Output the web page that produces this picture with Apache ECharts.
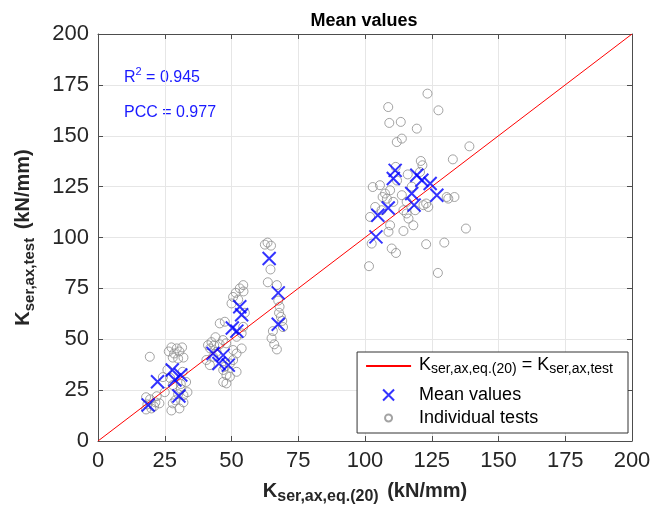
<!DOCTYPE html>
<html>
<head>
<meta charset="utf-8">
<script src="https://cdn.jsdelivr.net/npm/echarts@6/dist/echarts.min.js"></script>
<style>
html,body{margin:0;padding:0;background:#fff;}
#c{width:665px;height:509px;}
</style>
</head>
<body>
<div id="c"></div>
<script>
// ---- data ----
const axisTicks = [0, 25, 50, 75, 100, 125, 150, 175, 200];

const meanValues = [
  [18.8,17.7],[22.3,29.1],[27.8,34.9],[28.8,30.0],[31.0,32.4],[30.3,22.1],
  [43.1,43.0],[45.3,38.1],[46.9,42.2],[48.8,37.3],[50.3,55.5],[52.0,54.0],[53.1,66.0],[53.8,62.0],
  [64.1,89.7],[67.5,72.8],[67.5,57.4],
  [104.1,100.3],[104.8,110.9],[108.7,114.5],[111.3,133.0],[110.6,129.0],[119.4,130.6],
  [121.3,128.1],[124.4,126.5],[117.5,121.6],[118.4,115.9],[126.9,120.8]
];

const individualTests = [
  // group ~ 20-33
  [19.4,41.4],[26.5,44],[27.5,46],[28.5,43],[29.5,45.5],[30.5,44],[31.5,46],[28,41],[30,40.5],[32,41],
  [26,35],[31.7,34],[28,27.5],[31,28],[33,29],[18,15.5],[18.5,18],[19.5,20.5],[18,21.5],[20,16],
  [21,17],[21.5,19],[23,18.5],[24.3,31.4],[25,24],[27.5,15],[28,18.5],[30.5,16],[29,20],[32,19],
  [30,23],[32,22.5],[33.5,24],[31,25.5],[22,22],[27,31],
  // group ~ 40-55
  [54.4,76.6],[53.1,75],[51.6,72.8],[50.6,70.8],[52.5,69.5],[50,67.6],[54.5,73.5],[45.6,57.8],[47.5,58.6],
  [54.4,56.1],[53.8,52.9],[51.9,51.2],[42,45.5],[42.5,48.6],[43.5,47],[45.6,47.5],[46.8,49.6],[48,48],
  [44.4,43.8],[43.1,41.4],[50.6,44.7],[51.9,43],[50.6,39.8],[49.4,38.1],[40.6,39.8],[41.9,37.3],
  [46.9,34.9],[48.1,32.4],[47.5,36.5],[51.9,34],[49.4,31.6],[46.9,29],[48.1,28.3],[41.2,47.1],[44,51],
  [53.8,45.5],[55,63],
  // group ~ 63-70
  [62.5,96.5],[63.5,97.5],[64.8,96],[64.6,84.3],[63.6,78],[67,76.6],[67.5,69],[68,66],[67.8,63],
  [69,59],[69.3,56],[65.5,54],[65,50.5],[66,47.5],[67,45],[68.5,61],
  // group ~ 100-140
  [123.4,170.7],[108.7,164.1],[127.5,162.5],[109.1,156.3],[113.4,156.8],[119.4,153.5],[111.9,146.9],
  [113.8,148.6],[139.1,144.8],[132.9,138.4],[120.9,137.6],[121.5,135.5],[111.5,134.7],[102.9,124.8],
  [105.6,125.7],[107.5,121.6],[109.4,123.2],[108.2,119.1],[110.6,117.5],[103.8,115],[101.9,110.1],
  [106.2,113.4],[109.4,106],[108.8,102.8],[114.4,103.2],[131.2,119.1],[133.5,119.9],[137.8,104.4],
  [122.9,96.7],[129.7,97.5],[110,94.6],[111.6,92.4],[101.5,85.9],[127.3,82.6],
  [113.8,120.8],[115.6,117.5],[114.4,113.4],[115.6,111.8],[116.3,109.3],[118.1,106],[118.8,113.4],
  [121.9,115.9],[122.9,116.7],[123.7,115],[130.6,119.9],[106.6,119.9],[120.6,132.2],[102.5,97],
  [117.5,125],[112,128],[116,131]
];

const identityLine = [[0,0],[200,200]];

const titleText = 'Mean values';
const r2Text = '0.945';
const pccText = '0.977';
const lineName = 'identity';
const meanName = 'Mean values';
const testName = 'Individual tests';

// ---- chart ----
const FONT = 'Liberation Sans, Arial, Helvetica, sans-serif';
const chart = echarts.init(document.getElementById('c'), null, {renderer:'canvas'});

const axisCommon = {
  type: 'value', min: 0, max: 200, interval: 25,
  axisLine: {show: true, lineStyle: {color: '#4d4d4d', width: 1}},
  axisTick: {show: true, inside: true, length: 5, lineStyle: {color: '#4d4d4d'}},
  splitLine: {show: true, lineStyle: {color: '#e6e6e6', width: 1}},
  axisLabel: {fontFamily: FONT, fontSize: 22, color: '#262626', margin: 9,
    formatter: v => axisTicks.includes(v) ? String(v) : ''}
};
const mirrorAxis = {
  type: 'value', min: 0, max: 200, interval: 25,
  axisLine: {show: true, onZero: false, lineStyle: {color: '#4d4d4d', width: 1}},
  axisTick: {show: true, inside: true, length: 5, lineStyle: {color: '#4d4d4d'}},
  splitLine: {show: false}, axisLabel: {show: false}
};

function nameRich(subSize) {
  return {
    k: {fontFamily: FONT, fontSize: 20, fontWeight: 'bold', color: '#262626', lineHeight: 24,
        verticalAlign: 'top', padding: [0, 0, 8, 0]},
    s: {fontFamily: FONT, fontSize: subSize, fontWeight: 'bold', color: '#262626', lineHeight: 14,
        verticalAlign: 'bottom', padding: [0, 3, 0, 0]}
  };
}

chart.setOption({
  animation: false,
  backgroundColor: '#ffffff',
  title: {
    text: titleText, left: 359, top: 7, textAlign: 'center',
    textStyle: {fontFamily: FONT, fontSize: 18, fontWeight: 'bold', color: '#000'}
  },
  grid: {left: 98, right: 33, top: 34, bottom: 68, containLabel: false, outerBoundsMode: 'none'},
  xAxis: [
    Object.assign({}, axisCommon, {
      position: 'bottom',
      name: '{k|K}{s|ser,ax,eq.(20)}{k| (kN/mm)}',
      nameLocation: 'middle', nameGap: 40,
      nameTextStyle: {rich: nameRich(16)}
    }),
    Object.assign({}, mirrorAxis, {position: 'top'})
  ],
  yAxis: [
    Object.assign({}, axisCommon, {
      position: 'left',
      name: '{k|K}{s|ser,ax,test}{k| (kN/mm)}',
      nameLocation: 'middle', nameGap: 53,
      nameTextStyle: {rich: nameRich(15)}
    }),
    Object.assign({}, mirrorAxis, {position: 'right'})
  ],
  legend: {
    orient: 'vertical', right: 37, top: 352,
    backgroundColor: '#fff', borderColor: '#333', borderWidth: 1,
    padding: [4, 15, 6, 8], itemGap: 5,
    itemWidth: 45, itemHeight: 11,
    data: [
      {name: lineName, itemStyle: {opacity: 0}},
      {name: meanName},
      {name: testName, icon: 'path://M0,0M11,11M5.5,2A3.5,3.5,0,1,1,5.49,2Z'}
    ],
    textStyle: {fontFamily: FONT, fontSize: 18, color: '#000', padding: [0, 0, 0, 3],
      rich: {
        k: {fontFamily: FONT, fontSize: 18, color: '#000', lineHeight: 20, verticalAlign: 'top', padding: [0,0,7,0]},
        s: {fontFamily: FONT, fontSize: 14, color: '#000', lineHeight: 13, verticalAlign: 'bottom'}
      }},
    formatter: n => n === lineName ? '{k|K}{s|ser,ax,eq.(20)}{k| = K}{s|ser,ax,test}' : n
  },
  graphic: [
    {type: 'text', left: 124, top: 66,
      style: {text: '{a|R}{b|2}{a| = ' + r2Text + '}', rich: {
        a: {fontFamily: FONT, fontSize: 16, fill: '#1a1aff', lineHeight: 20, verticalAlign: 'bottom'},
        b: {fontFamily: FONT, fontSize: 11, fill: '#1a1aff', lineHeight: 14, verticalAlign: 'top'}
      }}},
    {type: 'text', left: 124, top: 105,
      style: {text: 'PCC = ' + pccText, fontFamily: FONT, fontSize: 16, fill: '#1a1aff'}}
  ],
  series: [
    {
      name: testName, type: 'scatter', data: individualTests,
      symbol: 'circle', symbolSize: 9,
      itemStyle: {color: 'rgba(0,0,0,0)', borderColor: '#8c8c8c', borderWidth: 1},
      z: 2
    },
    {
      name: lineName, type: 'line', data: identityLine,
      showSymbol: false, symbol: 'none',
      lineStyle: {color: '#ff0000', width: 1},
      itemStyle: {color: '#ff0000'},
      z: 3
    },
    {
      name: meanName, type: 'scatter', data: meanValues,
      symbol: 'path://M0,0L10,10M10,0L0,10', symbolSize: 13,
      itemStyle: {color: 'rgba(0,0,0,0)', borderColor: '#0000ff', borderWidth: 2},
      z: 4
    }
  ]
});
</script>
</body>
</html>
